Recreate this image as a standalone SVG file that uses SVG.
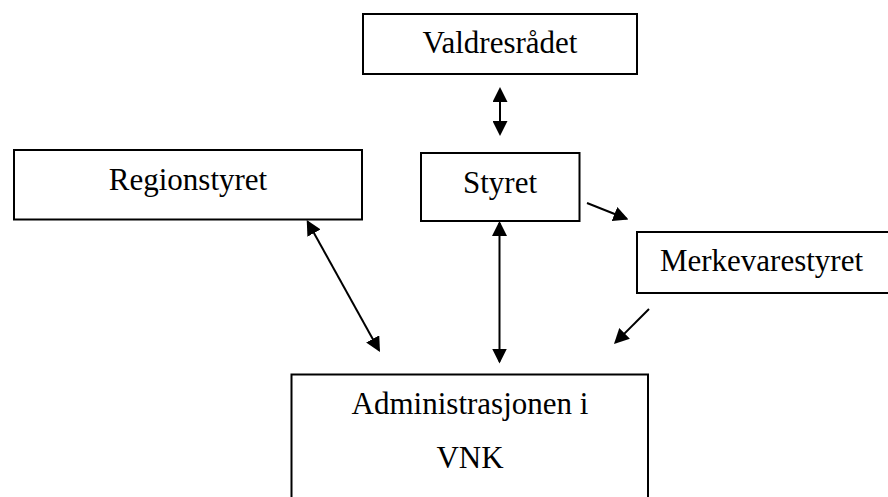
<svg xmlns="http://www.w3.org/2000/svg" width="888" height="497" viewBox="0 0 888 497">
  <style>
    .box { fill: #ffffff; stroke: #000000; stroke-width: 2; }
    .lbl { font-family: "Liberation Serif", "Times New Roman", serif; font-size: 31px; fill: #000000; text-anchor: middle; }
    .conn { stroke: #000000; stroke-width: 2; fill: none; }
  </style>
  <defs>
    <marker id="ah" viewBox="0 0 15 15" refX="13" refY="7.5" markerWidth="15" markerHeight="15" markerUnits="userSpaceOnUse" orient="auto-start-reverse">
      <path d="M0,0 L15,7.5 L0,15 z" fill="#000000"/>
    </marker>
  </defs>
  <rect width="888" height="497" fill="#ffffff"/>

  <g id="valdresradet">
    <rect class="box" x="363" y="14" width="274" height="60"/>
    <text class="lbl" x="500" y="53">Valdresrådet</text>
  </g>
  <g id="regionstyret">
    <rect class="box" x="14" y="150" width="348" height="69.5"/>
    <text class="lbl" x="188" y="190">Regionstyret</text>
  </g>
  <g id="styret">
    <rect class="box" x="421" y="153" width="158.5" height="68"/>
    <text class="lbl" x="500" y="193">Styret</text>
  </g>
  <g id="merkevarestyret">
    <rect class="box" x="637" y="232" width="262" height="61"/>
    <text class="lbl" x="761.5" y="271">Merkevarestyret</text>
  </g>
  <g id="administrasjonen">
    <rect class="box" x="291.5" y="374.5" width="356.5" height="160"/>
    <text class="lbl" x="470" y="414">Administrasjonen i</text>
    <text class="lbl" x="470" y="468">VNK</text>
  </g>

  <g id="connectors">
    <line class="conn" x1="500" y1="89" x2="500" y2="134" marker-start="url(#ah)" marker-end="url(#ah)"/>
    <line class="conn" x1="307.7" y1="221.7" x2="379" y2="350.3" marker-start="url(#ah)" marker-end="url(#ah)"/>
    <line class="conn" x1="499.5" y1="223" x2="499.5" y2="361.5" marker-start="url(#ah)" marker-end="url(#ah)"/>
    <line class="conn" x1="587" y1="203" x2="626.6" y2="218.8" marker-end="url(#ah)"/>
    <line class="conn" x1="649" y1="309" x2="615.4" y2="342.6" marker-end="url(#ah)"/>
  </g>
</svg>
